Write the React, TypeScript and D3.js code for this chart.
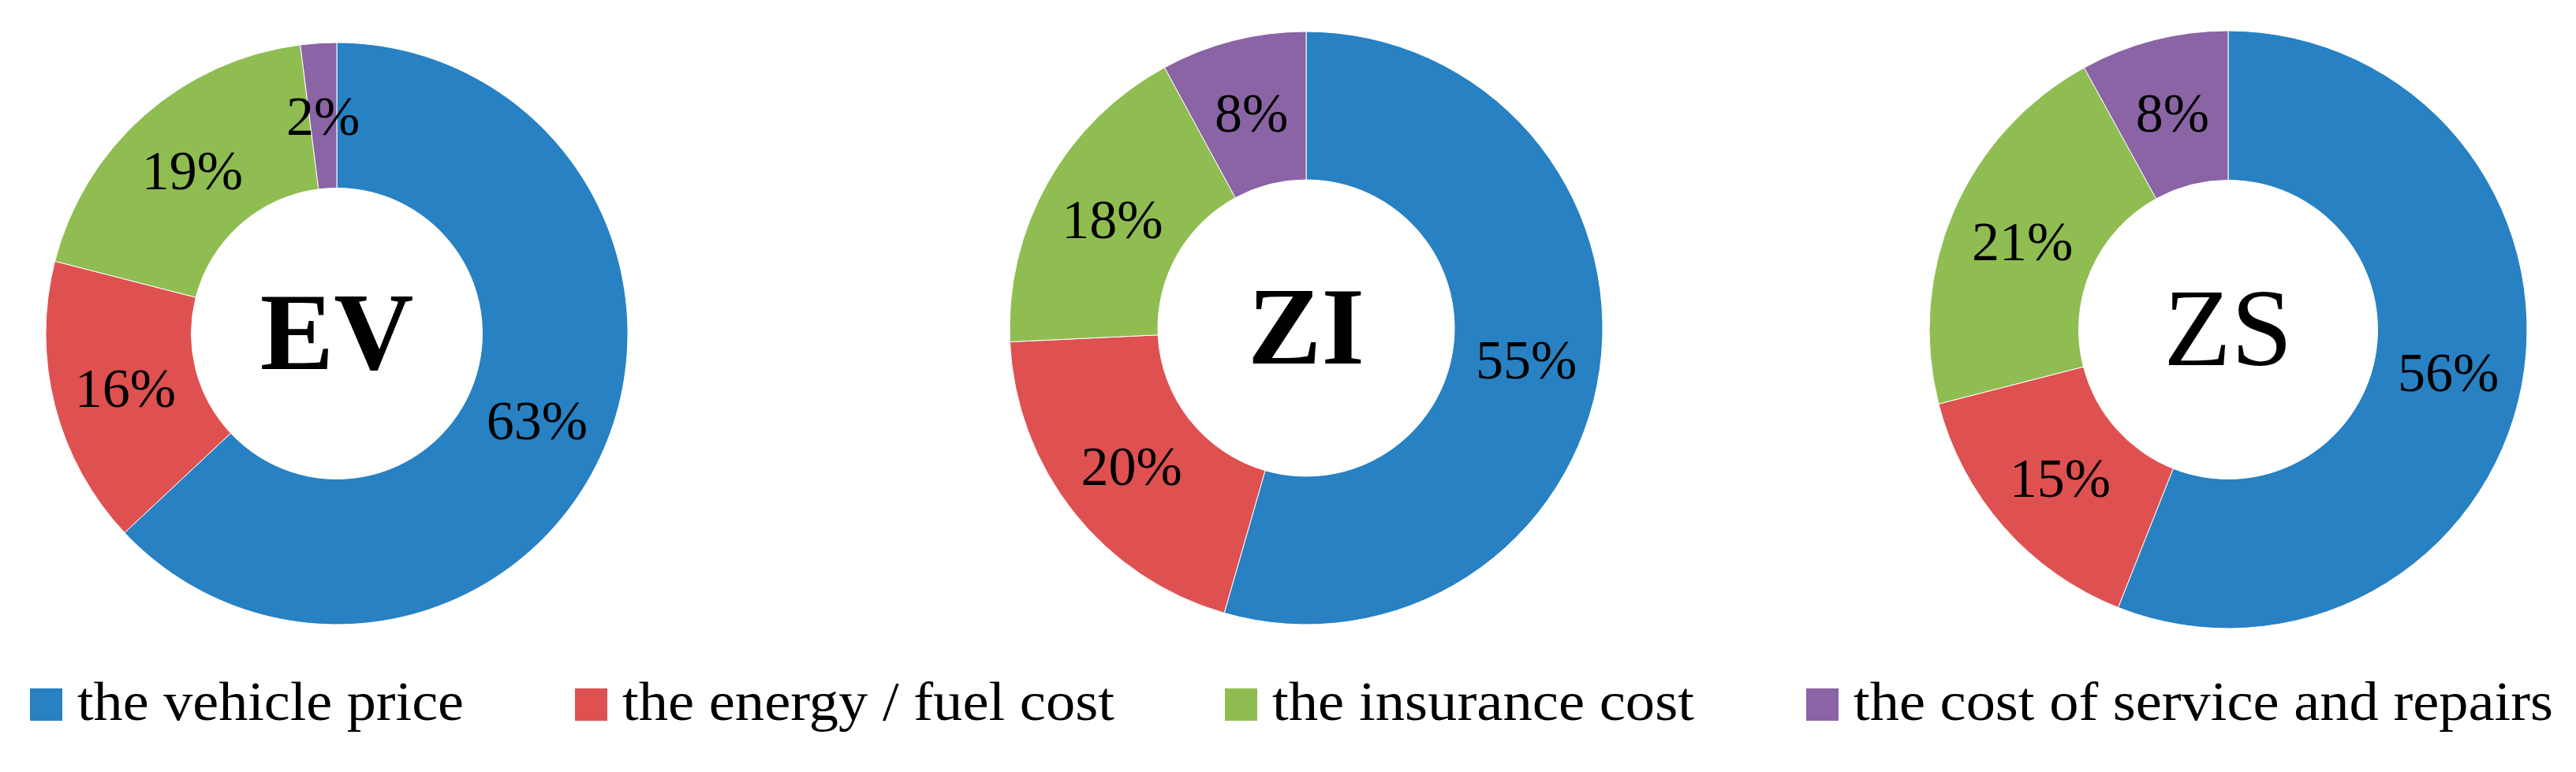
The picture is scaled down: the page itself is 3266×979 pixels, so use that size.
import React from "react";
import * as d3 from "d3";

// cost shares (%) per vehicle type, order follows the categories
const categories = [
  "the vehicle price",
  "the energy / fuel cost",
  "the insurance cost",
  "the cost of service and repairs",
];
const colors = ["#2781c2", "#de5150", "#8fbd52", "#8a64a5"];
const vehicles = ["EV", "ZI", "ZS"];
const evValues = [63, 16, 19, 2];
const ziValues = [55, 20, 18, 8];
const zsValues = [56, 15, 21, 8];
const series = [evValues, ziValues, zsValues];

const W = 3266;
const H = 979;
const FONT = "'Liberation Serif', 'Times New Roman', serif";

// where each donut sits
const donutLayout = [
  { cx: 427, cy: 423, r: 369, weight: 700 },
  { cx: 1656, cy: 416, r: 376, weight: 700 },
  { cx: 2825, cy: 418, r: 379, weight: 400 },
];

// legend swatch x and text width
const legendLayout = [
  { x: 38, w: 490 },
  { x: 729, w: 624 },
  { x: 1553, w: 535 },
  { x: 2290, w: 887 },
];

const pie = d3
  .pie<number>()
  .sort(null)
  .value((d) => d);

const Donut = ({ values, name, layout }) => {
  const arcs = pie(values);
  const arc = d3
    .arc<d3.PieArcDatum<number>>()
    .innerRadius(layout.r * 0.5)
    .outerRadius(layout.r);

  return (
    <g transform={`translate(${layout.cx},${layout.cy})`}>
      {arcs.map((a, i) => (
        <path
          key={i}
          d={arc(a) || ""}
          fill={colors[i]}
          stroke="#fff"
          strokeWidth={1}
        />
      ))}
      {arcs.map((a, i) => {
        const [x, y] = arc.centroid(a);
        return (
          <text
            key={"l" + i}
            x={x}
            y={y}
            dy="0.35em"
            textAnchor="middle"
            fontFamily={FONT}
            fontSize={70}
            fill="#000"
          >
            {values[i]}%
          </text>
        );
      })}
      <text
        x={0}
        y={45}
        textAnchor="middle"
        fontFamily={FONT}
        fontSize={140}
        fontWeight={layout.weight}
        fill="#000"
      >
        {name}
      </text>
    </g>
  );
};

export default function App() {
  return (
    <>
      <style>{`body{margin:0}`}</style>
      <svg width={W} height={H} viewBox={`0 0 ${W} ${H}`} style={{ display: "block", background: "#fff" }}>
        <rect width={W} height={H} fill="#fff" />
        {series.map((vals, i) => (
          <Donut key={vehicles[i]} values={vals} name={vehicles[i]} layout={donutLayout[i]} />
        ))}
        <g>
          {categories.map((c, i) => (
            <g key={c}>
              <rect x={legendLayout[i].x} y={873} width={41} height={41} fill={colors[i]} />
              <text
                x={legendLayout[i].x + 60}
                y={913}
                fontFamily={FONT}
                fontSize={70}
                textLength={legendLayout[i].w}
                lengthAdjust="spacingAndGlyphs"
                fill="#000"
              >
                {c}
              </text>
            </g>
          ))}
        </g>
      </svg>
    </>
  );
}
